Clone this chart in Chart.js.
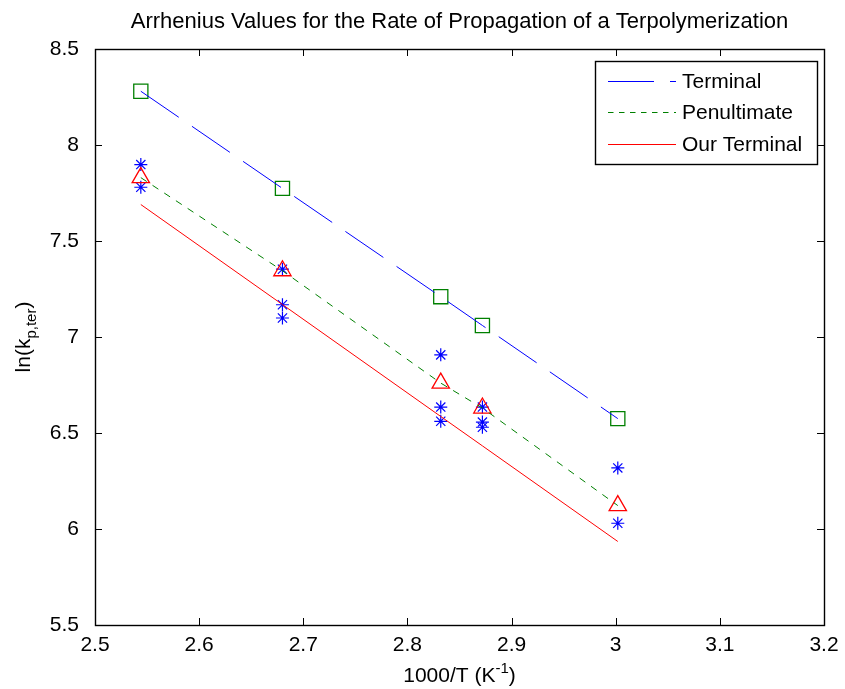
<!DOCTYPE html>
<html>
<head>
<meta charset="utf-8">
<script src="https://cdn.jsdelivr.net/npm/chart.js@4/dist/chart.umd.min.js"></script>
<style>
  html, body { margin: 0; padding: 0; background: #fff; }
  #wrap { width: 845px; height: 689px; }
</style>
</head>
<body>
<div id="wrap"><canvas id="arrhenius" width="845" height="689"></canvas></div>
<script>
// 1000/T for the five reaction temperatures
const invT = [2.544, 2.680, 2.832, 2.872, 3.002];

// model predictions, ln(kp,ter)
const terminalFit = [8.28, 7.774, 7.21, 7.06, 6.575];
const penultimateFit = [7.83, 7.345, 6.76, 6.63, 6.122];
const ourTerminalFit = [7.69, 7.169, 6.586, 6.433, 5.935];

// experimental points
const expX = [2.544, 2.544, 2.680, 2.680, 2.680, 2.832, 2.832, 2.832, 2.872, 2.872, 2.872, 3.002, 3.002];
const expY = [7.898, 7.78, 7.353, 7.168, 7.099, 6.907, 6.635, 6.561, 6.635, 6.557, 6.53, 6.318, 6.03];

const xTicks = [2.5, 2.6, 2.7, 2.8, 2.9, 3, 3.1, 3.2];
const yTicks = [5.5, 6, 6.5, 7, 7.5, 8, 8.5];
const seriesNames = ['Terminal', 'Penultimate', 'Our Terminal'];

const FONT = "'Liberation Sans', Arial, Helvetica, sans-serif";

function pts(xs, ys) {
    return xs.map((x, i) => ({ x: x, y: ys[i] }));
}

// matlab style box: frame plus inward ticks on all four sides
const axesBox = {
    id: 'axesBox',
    afterDatasetsDraw(chart) {
        const { ctx, chartArea: a, scales } = chart;
        const tl = 7;
        ctx.save();
        ctx.strokeStyle = '#000';
        ctx.lineWidth = 1;
        ctx.beginPath();
        xTicks.forEach(v => {
            const px = Math.round(scales.x.getPixelForValue(v)) + 0.5;
            ctx.moveTo(px, a.bottom); ctx.lineTo(px, a.bottom - tl);
            ctx.moveTo(px, a.top); ctx.lineTo(px, a.top + tl);
        });
        yTicks.forEach(v => {
            const py = Math.round(scales.y.getPixelForValue(v)) + 0.5;
            ctx.moveTo(a.left, py); ctx.lineTo(a.left + tl, py);
            ctx.moveTo(a.right, py); ctx.lineTo(a.right - tl, py);
        });
        ctx.stroke();
        ctx.lineWidth = 1.4;
        ctx.strokeRect(Math.round(a.left) + 0.5, Math.round(a.top) + 0.5,
            Math.round(a.right - a.left), Math.round(a.bottom - a.top));
        ctx.restore();
    }
};

// title and axis labels with sub/superscripts
const labels = {
    id: 'labels',
    afterDraw(chart) {
        const { ctx, chartArea: a } = chart;
        const cx = (a.left + a.right) / 2;
        const big = '21px ' + FONT, small = '15px ' + FONT;
        ctx.save();
        ctx.fillStyle = '#000';
        ctx.textBaseline = 'alphabetic';

        ctx.font = '22px ' + FONT;
        ctx.textAlign = 'center';
        ctx.fillText('Arrhenius Values for the Rate of Propagation of a Terpolymerization', cx, 28);

        // x label: 1000/T (K^-1)
        ctx.textAlign = 'left';
        const xa = '1000/T (K', xb = '-1', xc = ')';
        ctx.font = big; const wa = ctx.measureText(xa).width, wc = ctx.measureText(xc).width;
        ctx.font = small; const wb = ctx.measureText(xb).width;
        let x0 = cx - (wa + wb + wc) / 2;
        const yb = 682;
        ctx.font = big; ctx.fillText(xa, x0, yb);
        ctx.font = small; ctx.fillText(xb, x0 + wa, yb - 9);
        ctx.font = big; ctx.fillText(xc, x0 + wa + wb, yb);

        // y label: ln(k_p,ter)
        const ya = 'ln(k', ysub = 'p,ter', yc = ')';
        ctx.font = big; const ua = ctx.measureText(ya).width, uc = ctx.measureText(yc).width;
        ctx.font = small; const ub = ctx.measureText(ysub).width;
        const cy = (a.top + a.bottom) / 2;
        ctx.translate(30, cy);
        ctx.rotate(-Math.PI / 2);
        let s0 = -(ua + ub + uc) / 2;
        ctx.font = big; ctx.fillText(ya, s0, 0);
        ctx.font = small; ctx.fillText(ysub, s0 + ua, 6);
        ctx.font = big; ctx.fillText(yc, s0 + ua + ub, 0);
        ctx.restore();
    }
};

// legend box inside the upper right corner
const legendBox = {
    id: 'legendBox',
    afterDraw(chart) {
        const { ctx, chartArea: a } = chart;
        const right = Math.round(a.right) - 7, top = Math.round(a.top) + 12;
        const left = right - 222, bottom = top + 103;
        ctx.save();
        ctx.fillStyle = '#fff';
        ctx.fillRect(left, top, right - left, bottom - top);
        ctx.strokeStyle = '#000';
        ctx.lineWidth = 1.4;
        ctx.strokeRect(left + 0.5, top + 0.5, right - left, bottom - top);
        ctx.font = '21px ' + FONT;
        ctx.textBaseline = 'middle';
        ctx.textAlign = 'left';
        seriesNames.forEach((name, i) => {
            const ds = chart.data.datasets[i];
            const y = Math.round(top + 20 + i * 31.3) + 0.5;
            ctx.strokeStyle = ds.borderColor;
            ctx.lineWidth = 1;
            ctx.setLineDash(ds.legendDash || []);
            ctx.beginPath();
            ctx.moveTo(left + 13, y);
            ctx.lineTo(left + 81, y);
            ctx.stroke();
            ctx.setLineDash([]);
            ctx.fillStyle = '#000';
            ctx.fillText(name, left + 87, y + 1);
        });
        ctx.restore();
    }
};

const lineBase = { showLine: true, pointRadius: 0, borderWidth: 1, fill: false, tension: 0 };

new Chart(document.getElementById('arrhenius').getContext('2d'), {
    type: 'scatter',
    data: {
        datasets: [
            Object.assign({}, lineBase, {
                label: seriesNames[0], data: pts(invT, terminalFit),
                borderColor: '#0000ff', borderDash: [46, 16], legendDash: [46, 16]
            }),
            Object.assign({}, lineBase, {
                label: seriesNames[1], data: pts(invT, penultimateFit),
                borderColor: '#008000', borderDash: [7, 7], legendDash: [5.5, 5.5]
            }),
            Object.assign({}, lineBase, {
                label: seriesNames[2], data: pts(invT, ourTerminalFit),
                borderColor: '#ff0000'
            }),
            {
                label: 'terminal points', data: pts(invT, terminalFit),
                pointStyle: 'rect', pointRadius: 10, borderWidth: 1.3,
                borderColor: '#008000', backgroundColor: 'rgba(0,0,0,0)'
            },
            {
                label: 'penultimate points', data: pts(invT, penultimateFit),
                pointStyle: 'triangle', pointRadius: 10, borderWidth: 1.3,
                borderColor: '#ff0000', backgroundColor: 'rgba(0,0,0,0)'
            },
            {
                label: 'experimental', data: pts(expX, expY),
                pointStyle: 'star', pointRadius: 6.5, borderWidth: 1.2,
                borderColor: '#0000ff', backgroundColor: '#0000ff'
            }
        ]
    },
    options: {
        responsive: false,
        animation: false,
        layout: { padding: { top: 49, right: 21, left: 0, bottom: 0 } },
        plugins: { legend: { display: false }, tooltip: { enabled: false }, title: { display: false } },
        scales: {
            x: {
                type: 'linear', min: 2.5, max: 3.2,
                afterBuildTicks: s => { s.ticks = xTicks.map(v => ({ value: v })); },
                afterFit: s => { s.height = 64; },
                grid: { display: false }, border: { display: false },
                ticks: {
                    padding: 0, color: '#000', maxRotation: 0, autoSkip: false,
                    font: { family: FONT, size: 21 },
                    callback: v => String(Number(v.toFixed(2)))
                }
            },
            y: {
                type: 'linear', min: 5.5, max: 8.5,
                afterBuildTicks: s => { s.ticks = yTicks.map(v => ({ value: v })); },
                afterFit: s => { s.width = 95; },
                grid: { display: false }, border: { display: false },
                ticks: {
                    padding: 8, color: '#000', autoSkip: false,
                    font: { family: FONT, size: 21 },
                    callback: v => String(Number(v.toFixed(2)))
                }
            }
        }
    },
    plugins: [axesBox, labels, legendBox]
});
</script>
</body>
</html>
